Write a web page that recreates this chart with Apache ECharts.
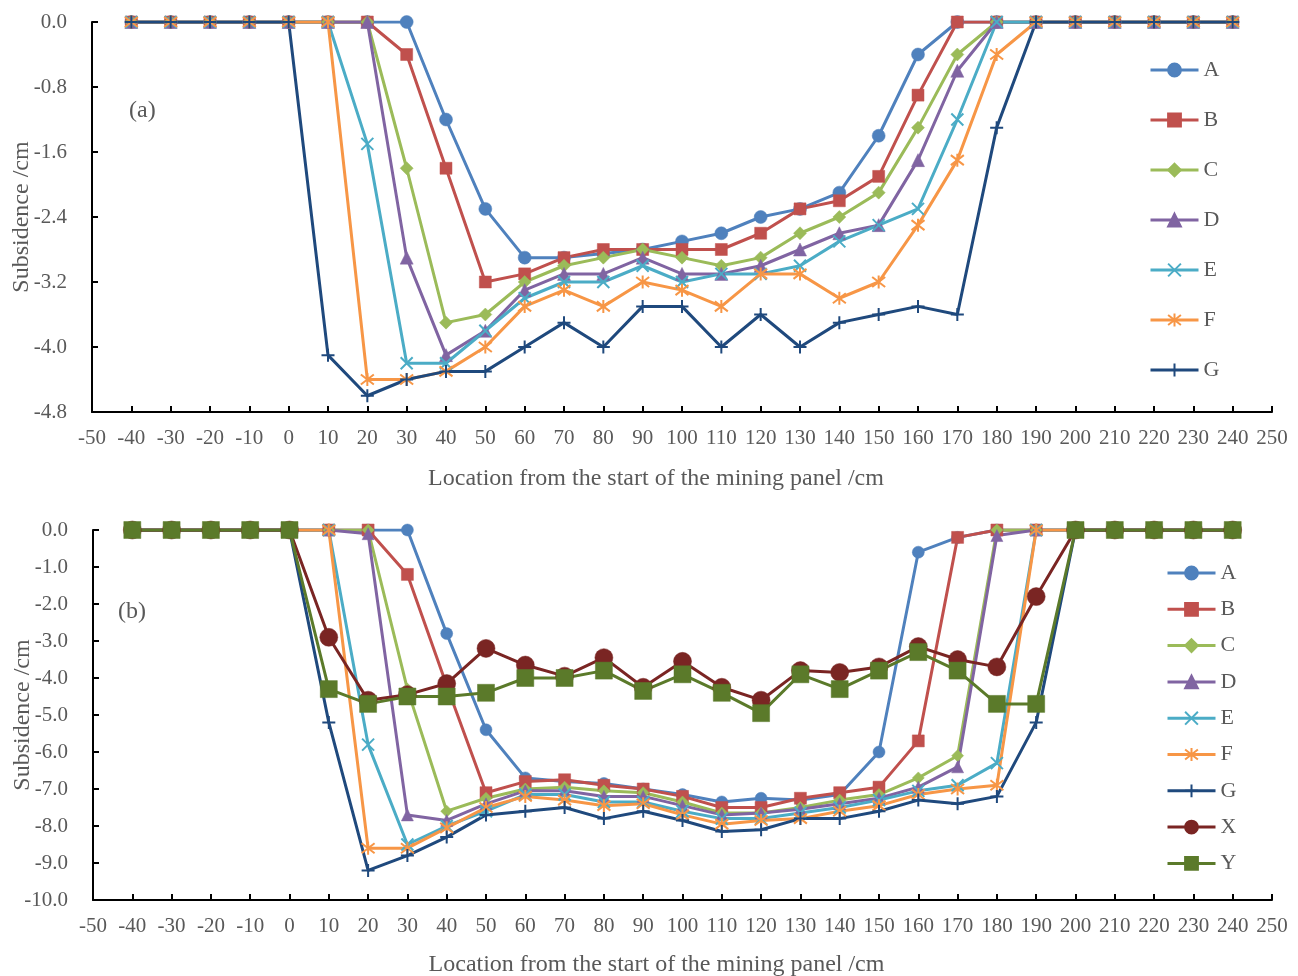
<!DOCTYPE html>
<html>
<head>
<meta charset="utf-8">
<script src="https://cdn.jsdelivr.net/npm/echarts@6/dist/echarts.min.js"></script>
<style>
html,body{margin:0;padding:0;background:#fff;}
#chart{width:1298px;height:976px;}
</style>
</head>
<body>
<div id="chart"></div>
<script>
// Locations (cm)
const locations = [-40,-30,-20,-10,0,10,20,30,40,50,60,70,80,90,100,110,120,130,140,150,160,170,180,190,200,210,220,230,240];

// Panel (a)
const topA = [0,0,0,0,0,0,0,0,-1.2,-2.3,-2.9,-2.9,-2.85,-2.8,-2.7,-2.6,-2.4,-2.3,-2.1,-1.4,-0.4,0,0,0,0,0,0,0,0];
const topB = [0,0,0,0,0,0,0,-0.4,-1.8,-3.2,-3.1,-2.9,-2.8,-2.8,-2.8,-2.8,-2.6,-2.3,-2.2,-1.9,-0.9,0,0,0,0,0,0,0,0];
const topC = [0,0,0,0,0,0,0,-1.8,-3.7,-3.6,-3.2,-3.0,-2.9,-2.8,-2.9,-3.0,-2.9,-2.6,-2.4,-2.1,-1.3,-0.4,0,0,0,0,0,0,0];
const topD = [0,0,0,0,0,0,0,-2.9,-4.1,-3.8,-3.3,-3.1,-3.1,-2.9,-3.1,-3.1,-3.0,-2.8,-2.6,-2.5,-1.7,-0.6,0,0,0,0,0,0,0];
const topE = [0,0,0,0,0,0,-1.5,-4.2,-4.2,-3.8,-3.4,-3.2,-3.2,-3.0,-3.2,-3.1,-3.1,-3.0,-2.7,-2.5,-2.3,-1.2,0,0,0,0,0,0,0];
const topF = [0,0,0,0,0,0,-4.4,-4.4,-4.3,-4.0,-3.5,-3.3,-3.5,-3.2,-3.3,-3.5,-3.1,-3.1,-3.4,-3.2,-2.5,-1.7,-0.4,0,0,0,0,0,0];
const topG = [0,0,0,0,0,-4.1,-4.6,-4.4,-4.3,-4.3,-4.0,-3.7,-4.0,-3.5,-3.5,-4.0,-3.6,-4.0,-3.7,-3.6,-3.5,-3.6,-1.3,0,0,0,0,0,0];

// Panel (b)
const botA = [0,0,0,0,0,0,0,0,-2.8,-5.4,-6.7,-6.8,-6.85,-7.0,-7.15,-7.35,-7.25,-7.3,-7.15,-6.0,-0.6,-0.2,0,0,0,0,0,0,0];
const botB = [0,0,0,0,0,0,0,-1.2,-4.2,-7.1,-6.8,-6.75,-6.9,-7.0,-7.2,-7.5,-7.5,-7.25,-7.1,-6.95,-5.7,-0.2,0,0,0,0,0,0,0];
const botC = [0,0,0,0,0,0,0,-4.3,-7.6,-7.25,-7.0,-6.95,-7.05,-7.1,-7.35,-7.65,-7.65,-7.5,-7.3,-7.15,-6.7,-6.1,0,0,0,0,0,0,0];
const botD = [0,0,0,0,0,0,-0.1,-7.7,-7.85,-7.4,-7.05,-7.05,-7.2,-7.2,-7.45,-7.7,-7.65,-7.55,-7.4,-7.25,-6.95,-6.4,-0.15,0,0,0,0,0,0];
const botE = [0,0,0,0,0,0,-5.8,-8.5,-8.0,-7.6,-7.15,-7.15,-7.35,-7.35,-7.6,-7.8,-7.8,-7.65,-7.5,-7.3,-7.05,-6.9,-6.3,0,0,0,0,0,0];
const botF = [0,0,0,0,0,0,-8.6,-8.6,-8.05,-7.5,-7.2,-7.3,-7.45,-7.4,-7.7,-7.95,-7.85,-7.8,-7.6,-7.45,-7.15,-7.0,-6.9,0,0,0,0,0,0];
const botG = [0,0,0,0,0,-5.2,-9.2,-8.8,-8.3,-7.7,-7.6,-7.5,-7.8,-7.6,-7.85,-8.15,-8.1,-7.8,-7.8,-7.6,-7.3,-7.4,-7.2,-5.2,0,0,0,0,0];
const botX = [0,0,0,0,0,-2.9,-4.6,-4.45,-4.15,-3.2,-3.65,-3.95,-3.45,-4.25,-3.55,-4.25,-4.6,-3.8,-3.85,-3.7,-3.15,-3.5,-3.7,-1.8,0,0,0,0,0];
const botY = [0,0,0,0,0,-4.3,-4.7,-4.5,-4.5,-4.4,-4.0,-4.0,-3.8,-4.35,-3.9,-4.4,-4.95,-3.9,-4.3,-3.8,-3.3,-3.8,-4.7,-4.7,0,0,0,0,0];

const topNames = ['A','B','C','D','E','F','G'];
const botNames = ['A','B','C','D','E','F','G','X','Y'];
const xTitle = 'Location from the start of the mining panel /cm';
const yTitle = 'Subsidence /cm';

const colors = {A:'#4F81BD',B:'#C0504D',C:'#9BBB59',D:'#8064A2',E:'#4BACC6',F:'#F79646',G:'#1F497D',X:'#7A2523',Y:'#5B7A2A'};
const symbols = {
  A:'circle', B:'rect', C:'diamond', D:'triangle',
  E:'path://M0,0L10,10M10,0L0,10',
  F:'path://M0,0L10,10M10,0L0,10M5,-1.5L5,11.5',
  G:'path://M5,0L5,10M1.5,5L8.5,5',
  X:'circle', Y:'rect'
};
const topSizes = {A:13,B:12,C:13,D:13,E:12,F:13,G:13};
const botSizes = {A:12,B:12,C:12,D:12,E:12,F:13,G:13,X:18,Y:17};

const font = 'Liberation Serif, Times New Roman, serif';
const grey = '#595959';

function pairs(vals){ return locations.map((x,i)=>[x, vals[i]]); }

function mkSeries(name, vals, gi, size, lw){
  return {
    name: name, type:'line', xAxisIndex: gi, yAxisIndex: gi,
    data: pairs(vals),
    symbol: symbols[name], symbolSize: size, showAllSymbol: true,
    lineStyle:{color: colors[name], width: lw},
    itemStyle:{color: colors[name], borderColor: colors[name], borderWidth: (name==='E'||name==='F'||name==='G') ? 2 : 0.5},
    emphasis:{disabled:true},
    z: 2
  };
}

const topData = {A:topA,B:topB,C:topC,D:topD,E:topE,F:topF,G:topG};
const botData = {A:botA,B:botB,C:botC,D:botD,E:botE,F:botF,G:botG,X:botX,Y:botY};

const series = [];
topNames.forEach(n=>series.push(mkSeries(n, topData[n], 0, topSizes[n], 3)));
botNames.forEach(n=>series.push(mkSeries(n, botData[n], 1, botSizes[n], 3)));

function xAxisDef(gi, gap, margin){
  return {
    type:'value', gridIndex: gi, min:-50, max:250, interval:10,
    axisLine:{show:true, onZero:false, lineStyle:{color:'#000', width:2}},
    axisTick:{show:true, inside:true, length:6, lineStyle:{color:'#000', width:2}},
    axisLabel:{color:grey, fontFamily:font, fontSize:21, margin:margin, showMinLabel:true, showMaxLabel:true},
    splitLine:{show:false},
    name: xTitle, nameLocation:'middle', nameGap: gap,
    nameTextStyle:{color:grey, fontFamily:font, fontSize:24, padding:[0,52,0,0]}
  };
}
function yAxisDef(gi, min, interval){
  return {
    type:'value', gridIndex: gi, min:min, max:0, interval:interval,
    axisLine:{show:true, onZero:false, lineStyle:{color:'#000', width:2}},
    axisTick:{show:true, inside:true, length:6, lineStyle:{color:'#000', width:2}},
    axisLabel:{color:grey, fontFamily:font, fontSize:21, margin:25, formatter:v=>v.toFixed(1)},
    splitLine:{show:false},
    name: yTitle, nameLocation:'middle', nameGap: 58, nameRotate: 90, nameMoveOverlap:false,
    nameTextStyle:{color:grey, fontFamily:font, fontSize:24}
  };
}

const option = {
  animation:false,
  backgroundColor:'#fff',
  grid:[
    {left:92, right:26, top:22, height:390, outerBoundsMode:'none', containLabel:false},
    {left:93, right:26, top:530, height:370, outerBoundsMode:'none', containLabel:false}
  ],
  xAxis:[xAxisDef(0, 55, 16), xAxisDef(1, 53, 16)],
  yAxis:[yAxisDef(0, -4.8, 0.8), yAxisDef(1, -10, 1)],
  legend:[
    {data: topNames, orient:'vertical', left:1149, top:59, padding:0, itemWidth:48, itemHeight:16, itemGap:28,
     lineStyle:{width:3},
     textStyle:{color:grey, fontFamily:font, fontSize:22}, selectedMode:false},
    {data: botNames, orient:'vertical', left:1166, top:562, padding:0, itemWidth:48, itemHeight:16, itemGap:14.3,
     lineStyle:{width:3},
     textStyle:{color:grey, fontFamily:font, fontSize:22}, selectedMode:false}
  ],
  graphic:[
    {type:'text', left:129, top:99, style:{text:'(a)', fill:grey, font:'24px Liberation Serif'}},
    {type:'text', left:118, top:600, style:{text:'(b)', fill:grey, font:'24px Liberation Serif'}}
  ],
  series: series
};

const chart = echarts.init(document.getElementById('chart'), null, {renderer:'canvas'});
chart.setOption(option);
</script>
</body>
</html>
